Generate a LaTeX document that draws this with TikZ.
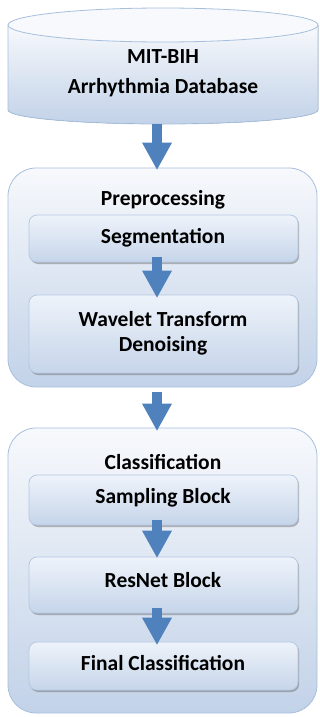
\documentclass[tikz,border=0pt]{standalone}
\usepackage{fontspec}
\setmainfont{Carlito}
\usetikzlibrary{arrows.meta,shadows}
\definecolor{arrowblue}{HTML}{4F81BD}
\definecolor{boxtop}{HTML}{F7F9FC}
\definecolor{boxbot}{HTML}{C2D2E8}
\definecolor{boxline}{HTML}{A7BFDD}
\definecolor{intop}{HTML}{EEF3FA}
\definecolor{inbot}{HTML}{C6D5EA}
\definecolor{inline}{HTML}{B5C8E2}
\tikzset{
  container/.style={rounded corners=28pt, draw=boxline, line width=0.8pt, top color=boxtop, bottom color=boxbot, minimum width=309pt, inner sep=0pt},
  inner/.style={rounded corners=8pt, draw=inline, line width=0.8pt, top color=intop, bottom color=inbot, minimum width=269pt, inner sep=0pt,
     drop shadow={shadow xshift=1.2pt, shadow yshift=-2pt, fill=black!60, opacity=0.45}},
  lbl/.style={font=\fontsize{21.5}{30}\selectfont\bfseries, text=black, align=center, inner sep=0pt},
  blockarrow/.style={draw=arrowblue, line width=10pt, -{Triangle[width=30pt,length=27pt,line width=0pt]}},
}
\begin{document}
\begin{tikzpicture}[x=1pt,y=-1pt]
\useasboundingbox (0,0) rectangle (320,717);
\coordinate (ax) at (157,0);
% database cylinder
\fill[top color=boxtop, bottom color=boxbot] (8,25) -- (8,110) arc[start angle=180,end angle=360,x radius=155,y radius=-14] -- (318,25) -- cycle;
\draw[boxline, line width=0.8pt] (8,25) -- (8,110) arc[start angle=180,end angle=360,x radius=155,y radius=-14] -- (318,25);
\draw[boxline, line width=0.8pt, fill=boxtop] (163,25) ellipse[x radius=155, y radius=17];
\node[minimum width=310pt, minimum height=116pt, inner sep=0pt] (db) at (163,66) {};
\node[lbl] (dbtext) at (163,73) {MIT-BIH\\Arrhythmia Database};
% preprocessing
\node[container, minimum height=219pt] (pre) at (162.5,277.5) {};
\node[lbl] (pretitle) at (163,200) {Preprocessing};
\node[inner, minimum height=47pt] (seg) at (163.5,238.5) {};
\node[lbl] (segt) at (163,238) {Segmentation};
\node[inner, minimum height=78pt] (wav) at (163.5,334) {};
\node[lbl, font=\fontsize{21.5}{25}\selectfont\bfseries] (wavt) at (163,333) {Wavelet Transform\\Denoising};
% classification
\node[container, minimum height=285pt] (cls) at (162.5,570.5) {};
\node[lbl] (clstitle) at (163,462) {Classification};
\node[inner, minimum height=50pt] (samp) at (163.5,500) {};
\node[lbl] (sampt) at (163,498) {Sampling Block};
\node[inner, minimum height=56pt] (res) at (163.5,585) {};
\node[lbl] (rest) at (163,580) {ResNet Block};
\node[inner, minimum height=48pt] (fin) at (163.5,666) {};
\node[lbl] (fint) at (163,663) {Final Classification};
% arrows
\draw[blockarrow, shorten >=-2pt] (db.south -| ax) -- (pre.north -| ax);
\draw[blockarrow, shorten <=5pt, shorten >=-3pt] (pre.south -| ax) -- (cls.north -| ax);
\draw[blockarrow, shorten <=-5pt, shorten >=-3pt] (seg.south -| ax) -- (wav.north -| ax);
\draw[blockarrow, shorten <=-5pt, shorten >=-1pt] (samp.south -| ax) -- (res.north -| ax);
\draw[blockarrow, shorten <=-5pt, shorten >=-3pt] (res.south -| ax) -- (fin.north -| ax);
\end{tikzpicture}
\end{document}
